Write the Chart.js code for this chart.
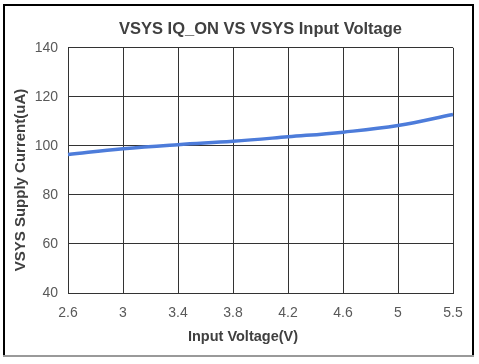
<!DOCTYPE html>
<html>
<head>
<meta charset="utf-8">
<script src="https://cdn.jsdelivr.net/npm/chart.js@4/dist/chart.umd.min.js"></script>
<style>
  html, body { margin: 0; padding: 0; background: #fff; }
  #wrap { width: 479px; height: 364px; position: relative; }
</style>
</head>
<body>
<div id="wrap"><canvas id="chart_iq_on" width="479" height="364"></canvas></div>
<script>
var voltage_labels = ['2.6', '3', '3.4', '3.8', '4.2', '4.6', '5', '5.5'];
var supply_current = [96.5, 98.8, 100.5, 101.9, 103.7, 105.6, 108.3, 112.8];
var y_ticks = [40, 60, 80, 100, 120, 140];
var x_title = 'Input Voltage(V)';
var y_title = 'VSYS Supply Current(uA)';

// frame round the picture, plus axis titles centred on the whole figure (like the original)
var frame_plugin = {
    id: 'frame_plugin',
    afterDraw: function (chart) {
        var ctx = chart.ctx;
        ctx.save();
        ctx.lineWidth = 2;
        ctx.strokeStyle = '#000';
        ctx.beginPath();
        ctx.moveTo(4, 356);
        ctx.lineTo(4, 5);
        ctx.lineTo(473, 5);
        ctx.lineTo(473, 356);
        ctx.stroke();
        ctx.strokeStyle = '#999';
        ctx.beginPath();
        ctx.moveTo(3, 356);
        ctx.lineTo(474, 356);
        ctx.stroke();

        ctx.fillStyle = '#404040';
        ctx.font = 'bold 14.5px "Liberation Sans"';
        ctx.textAlign = 'center';
        ctx.textBaseline = 'middle';
        ctx.fillText(x_title, 243, 337);
        ctx.translate(21, 180);
        ctx.rotate(-Math.PI / 2);
        ctx.font = 'bold 15px "Liberation Sans"';
        ctx.fillText(y_title, 0, 0);
        ctx.restore();
    }
};

var chart_iq_on = new Chart(document.getElementById('chart_iq_on'), {
    type: 'line',
    data: {
        labels: voltage_labels,
        datasets: [{
            data: supply_current,
            borderColor: '#4d7cda',
            borderWidth: 3.5,
            pointRadius: 0,
            tension: 0.4,
            fill: false
        }]
    },
    options: {
        responsive: false,
        animation: false,
        layout: {
            padding: { left: 0, right: 26, top: 0, bottom: 0 }
        },
        plugins: {
            legend: { display: false },
            tooltip: { enabled: false },
            title: {
                display: true,
                fullSize: false,
                text: 'VSYS IQ_ON VS VSYS Input Voltage',
                color: '#404040',
                font: { family: 'Liberation Sans', size: 16.5, weight: 'bold' },
                padding: { top: 20, bottom: 8 }
            }
        },
        scales: {
            x: {
                type: 'category',
                offset: false,
                grid: { color: '#333', lineWidth: 1, offset: false, drawTicks: false },
                border: { color: '#333', width: 1 },
                ticks: {
                    color: '#595959',
                    font: { family: 'Liberation Sans', size: 14 },
                    padding: 12,
                    maxRotation: 0,
                    autoSkip: false
                },
                afterFit: function (scale) { scale.height = 71; }
            },
            y: {
                min: 40,
                max: 140,
                afterBuildTicks: function (scale) {
                    scale.ticks = y_ticks.map(function (v) { return { value: v }; });
                },
                grid: { color: '#333', lineWidth: 1, drawTicks: false },
                border: { color: '#333', width: 1 },
                ticks: {
                    color: '#595959',
                    font: { family: 'Liberation Sans', size: 14 },
                    padding: 10
                },
                afterFit: function (scale) { scale.width = 68; }
            }
        }
    },
    plugins: [frame_plugin]
});
</script>
</body>
</html>
